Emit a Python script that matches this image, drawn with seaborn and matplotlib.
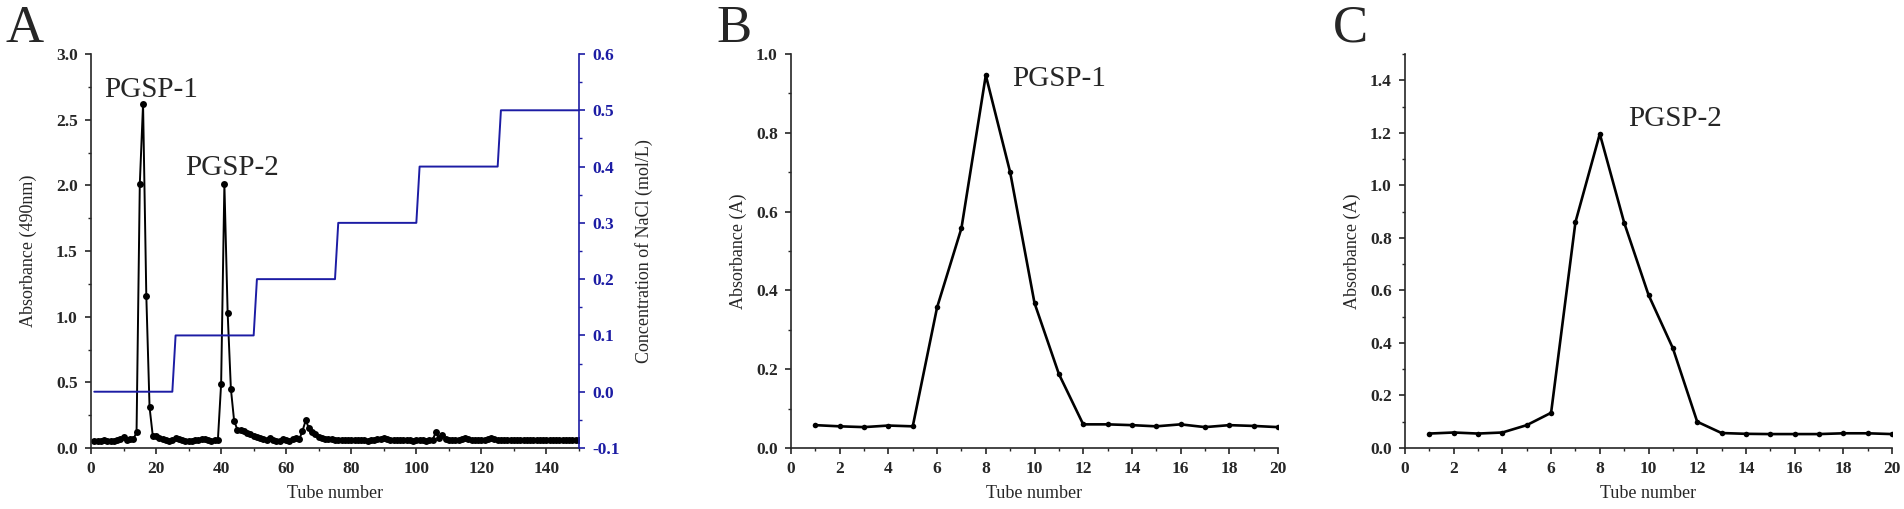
import numpy as np
import pandas as pd
import matplotlib
matplotlib.use("Agg")
import matplotlib.pyplot as plt
from matplotlib.ticker import MultipleLocator, FormatStrFormatter
import seaborn as sns

# -------------------------------------------------------------------
# Data
# -------------------------------------------------------------------
# Panel A: DEAE elution profile, tubes 1-150
tubes_a = list(range(1, 151))
abs_a = [
    0.055, 0.057, 0.056, 0.058, 0.056, 0.057, 0.055, 0.058, 0.065, 0.085,
    0.060, 0.072, 0.065, 0.120, 2.010, 2.620, 1.160, 0.310, 0.090, 0.088,
    0.075, 0.065, 0.060, 0.055, 0.058, 0.075, 0.068, 0.060, 0.056, 0.055,
    0.054, 0.058, 0.062, 0.070, 0.065, 0.058, 0.055, 0.058, 0.060, 0.490,
    2.010, 1.030, 0.450, 0.205, 0.140, 0.135, 0.130, 0.115, 0.105, 0.095,
    0.085, 0.075, 0.068, 0.060, 0.078, 0.058, 0.055, 0.056, 0.070, 0.058,
    0.056, 0.065, 0.075, 0.065, 0.130, 0.210, 0.150, 0.125, 0.105, 0.085,
    0.075, 0.070, 0.068, 0.065, 0.062, 0.060, 0.062, 0.058, 0.060, 0.058,
    0.060, 0.058, 0.060, 0.058, 0.057, 0.060, 0.062, 0.065, 0.072, 0.075,
    0.068, 0.062, 0.060, 0.062, 0.060, 0.058, 0.060, 0.058, 0.056, 0.058,
    0.060, 0.058, 0.056, 0.060, 0.062, 0.120, 0.075, 0.100, 0.065, 0.062,
    0.060, 0.060, 0.062, 0.068, 0.075, 0.065, 0.060, 0.058, 0.060, 0.058,
    0.062, 0.070, 0.075, 0.065, 0.060, 0.062, 0.058, 0.060, 0.058, 0.060,
    0.060, 0.058, 0.060, 0.058, 0.060, 0.060, 0.062, 0.060, 0.058, 0.060,
    0.058, 0.060, 0.058, 0.060, 0.060, 0.058, 0.060, 0.058, 0.060, 0.058,
]
# NaCl step gradient: each level held for 25 tubes
nacl_levels = [0.0, 0.1, 0.2, 0.3, 0.4, 0.5]
nacl_a = np.repeat(nacl_levels, 25)

# Panel B: PGSP-1 on gel column, tubes 1-20
tubes_b = list(range(1, 21))
abs_b = [0.058, 0.055, 0.053, 0.057, 0.055, 0.357, 0.558, 0.946, 0.700, 0.368,
         0.188, 0.060, 0.060, 0.058, 0.055, 0.060, 0.053, 0.058, 0.056, 0.053]

# Panel C: PGSP-2 on gel column, tubes 1-20
tubes_c = list(range(1, 21))
abs_c = [0.055, 0.059, 0.055, 0.059, 0.087, 0.134, 0.860, 1.196, 0.858, 0.583,
         0.380, 0.100, 0.057, 0.054, 0.053, 0.053, 0.053, 0.056, 0.056, 0.053]

df_a = pd.DataFrame({"tube": tubes_a, "abs": abs_a, "nacl": nacl_a})
df_b = pd.DataFrame({"tube": tubes_b, "abs": abs_b})
df_c = pd.DataFrame({"tube": tubes_c, "abs": abs_c})

# -------------------------------------------------------------------
# Style
# -------------------------------------------------------------------
sns.set_style("ticks")
plt.rcParams["font.family"] = ["Liberation Serif", "DejaVu Serif"]
plt.rcParams["axes.linewidth"] = 1.2
plt.rcParams["xtick.major.width"] = 1.2
plt.rcParams["ytick.major.width"] = 1.2
plt.rcParams["xtick.minor.width"] = 1.0
plt.rcParams["ytick.minor.width"] = 1.0
plt.rcParams["xtick.major.size"] = 4
plt.rcParams["ytick.major.size"] = 4
plt.rcParams["xtick.minor.size"] = 2.5
plt.rcParams["ytick.minor.size"] = 2.5
plt.rcParams["xtick.direction"] = "out"
plt.rcParams["ytick.direction"] = "out"

BLUE = "#1c1ca4"
TICK_FS = 12.5
LABEL_FS = 13
NOTE_FS = 21
LETTER_FS = 38

fig = plt.figure(figsize=(19.04, 5.09), dpi=100)
W, H = 1904, 509


def add_axes_px(left, right, top, bottom):
    return fig.add_axes([left / W, 1 - bottom / H, (right - left) / W, (bottom - top) / H])


def style_ticks(ax):
    for lab in ax.get_xticklabels() + ax.get_yticklabels():
        lab.set_fontweight("bold")
        lab.set_fontsize(TICK_FS)
    ax.tick_params(axis="both", which="major", pad=5.5)


# -------------------------------------------------------------------
# Panel A
# -------------------------------------------------------------------
ax_a = add_axes_px(91, 579, 54, 448)
sns.lineplot(data=df_a, x="tube", y="abs", ax=ax_a, color="black", lw=1.4,
             marker="o", markersize=5, markeredgewidth=0, estimator=None)
ax_a.set_xlim(0, 150)
ax_a.set_ylim(0, 3.0)
ax_a.xaxis.set_major_locator(MultipleLocator(20))
ax_a.xaxis.set_minor_locator(MultipleLocator(10))
ax_a.yaxis.set_major_locator(MultipleLocator(0.5))
ax_a.yaxis.set_minor_locator(MultipleLocator(0.25))
ax_a.yaxis.set_major_formatter(FormatStrFormatter("%.1f"))
ax_a.set_xlabel("Tube number", fontsize=LABEL_FS)
ax_a.set_ylabel("Absorbance (490nm)", fontsize=LABEL_FS)
ax_a.xaxis.set_label_coords(0.5, -0.094)
ax_a.yaxis.set_label_coords(-0.111, 0.5)
ax_a.spines["top"].set_visible(False)
ax_a.spines["right"].set_visible(False)
style_ticks(ax_a)

ax_a2 = ax_a.twinx()
sns.lineplot(data=df_a, x="tube", y="nacl", ax=ax_a2, color=BLUE, lw=1.4, estimator=None)
ax_a2.set_ylim(-0.1, 0.6)
ax_a2.yaxis.set_major_locator(MultipleLocator(0.1))
ax_a2.yaxis.set_minor_locator(MultipleLocator(0.05))
ax_a2.yaxis.set_major_formatter(FormatStrFormatter("%.1f"))
ax_a2.set_ylabel("Concentration of NaCl (mol/L)", fontsize=LABEL_FS)
ax_a2.yaxis.set_label_coords(1.115, 0.5)
ax_a2.spines["top"].set_visible(False)
ax_a2.spines["left"].set_visible(False)
ax_a2.spines["bottom"].set_visible(False)
ax_a2.spines["right"].set_color(BLUE)
ax_a2.tick_params(axis="y", which="both", colors=BLUE)
style_ticks(ax_a2)

ax_a.text(4, 2.67, "PGSP-1", fontsize=NOTE_FS)
ax_a.text(29, 2.08, "PGSP-2", fontsize=NOTE_FS)

# -------------------------------------------------------------------
# Panels B and C
# -------------------------------------------------------------------
ax_b = add_axes_px(791, 1278, 54, 448)
sns.lineplot(data=df_b, x="tube", y="abs", ax=ax_b, color="black", lw=1.9,
             marker="o", markersize=4, markeredgewidth=0, estimator=None)
ax_b.set_ylim(0, 1.0)
ax_b.yaxis.set_major_locator(MultipleLocator(0.2))
ax_b.yaxis.set_minor_locator(MultipleLocator(0.1))
ax_b.text(9.1, 0.92, "PGSP-1", fontsize=NOTE_FS)

ax_c = add_axes_px(1405, 1892, 54, 448)
sns.lineplot(data=df_c, x="tube", y="abs", ax=ax_c, color="black", lw=1.9,
             marker="o", markersize=4, markeredgewidth=0, estimator=None)
ax_c.set_ylim(0, 1.5)
ax_c.yaxis.set_major_locator(MultipleLocator(0.2))
ax_c.yaxis.set_minor_locator(MultipleLocator(0.1))
ax_c.text(9.15, 1.224, "PGSP-2", fontsize=NOTE_FS)

for ax in (ax_b, ax_c):
    ax.set_xlim(0, 20)
    ax.xaxis.set_major_locator(MultipleLocator(2))
    ax.xaxis.set_minor_locator(MultipleLocator(1))
    ax.yaxis.set_major_formatter(FormatStrFormatter("%.1f"))
    ax.set_xlabel("Tube number", fontsize=LABEL_FS)
    ax.set_ylabel("Absorbance (A)", fontsize=LABEL_FS)
    ax.xaxis.set_label_coords(0.5, -0.094)
    ax.yaxis.set_label_coords(-0.09, 0.5)
    ax.spines["top"].set_visible(False)
    ax.spines["right"].set_visible(False)
    style_ticks(ax)

# panel letters
for letter, xpx in [("A", 5), ("B", 716), ("C", 1333)]:
    fig.text(xpx / W, 1 - 42 / H, letter, fontsize=LETTER_FS, va="baseline", ha="left")

fig.savefig("out.png", dpi=100)
